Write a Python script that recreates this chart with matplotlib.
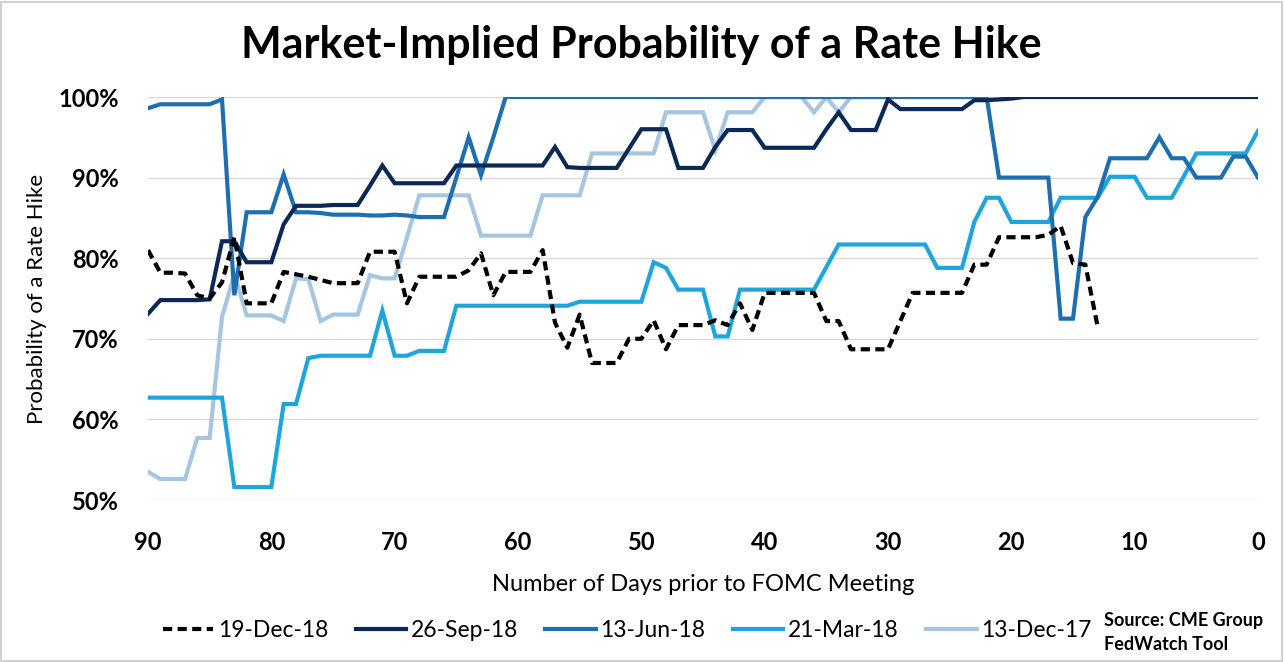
import numpy as np
import matplotlib
matplotlib.use("Agg")
import matplotlib.pyplot as plt
from matplotlib.patches import Rectangle

plt.rcParams['font.family'] = ['Lato', 'DejaVu Sans']

# days before the meeting, 90 down to 0
days = list(range(90, -1, -1))

# market-implied probability (%) for each meeting, one value per day
dec_18 = [81.0, 78.2, 78.2, 78.1, 75.4, 75.0, 77.0, 82.6, 74.4, 74.4,
          74.4, 78.3, 78.0, 77.7, 77.3, 76.9, 76.9, 76.9, 80.8, 80.8,
          80.8, 74.4, 77.7, 77.7, 77.7, 77.7, 78.5, 80.6, 75.4, 78.3,
          78.3, 78.3, 81.0, 72.0, 68.9, 73.0, 67.0, 67.0, 67.0, 70.0,
          70.0, 72.3, 68.7, 71.7, 71.7, 71.7, 72.3, 71.7, 74.4, 71.1,
          75.7, 75.7, 75.7, 75.7, 75.7, 72.2, 72.2, 68.7, 68.7, 68.7,
          68.7, 72.2, 75.7, 75.7, 75.7, 75.7, 75.7, 79.2, 79.2, 82.6,
          82.6, 82.6, 82.6, 82.9, 84.0, 79.4, 79.2, 71.5] + [np.nan] * 13

sep_18 = [73.1, 74.8, 74.8, 74.8, 74.8, 74.9, 82.1, 82.1, 79.5, 79.5,
          79.5, 84.2, 86.5, 86.5, 86.5, 86.6, 86.6, 86.6, 89.0, 91.5,
          89.3, 89.3, 89.3, 89.3, 89.3, 91.5, 91.5, 91.5, 91.5, 91.5,
          91.5, 91.5, 91.5, 93.8, 91.3, 91.2, 91.2, 91.2, 91.2, 93.6,
          96.0, 96.0, 96.0, 91.2, 91.2, 91.2, 93.8, 95.9, 95.9, 95.9,
          93.7, 93.7, 93.7, 93.7, 93.7, 96.0, 98.1, 95.9, 95.9, 95.9,
          99.7, 98.5, 98.5, 98.5, 98.5, 98.5, 98.5, 99.6, 99.6, 99.7,
          99.8, 100, 100, 100, 100, 100, 100, 100, 100, 100,
          100, 100, 100, 100, 100, 100, 100, 100, 100, 100, 100]

jun_18 = [98.6, 99.1, 99.1, 99.1, 99.1, 99.1, 99.7, 75.4, 85.7, 85.7,
          85.7, 90.4, 85.7, 85.7, 85.6, 85.4, 85.4, 85.4, 85.3, 85.3,
          85.4, 85.3, 85.1, 85.1, 85.1, 90.0, 95.0, 90.3, 95.0, 100,
          100, 100, 100, 100, 100, 100, 100, 100, 100, 100,
          100, 100, 100, 100, 100, 100, 100, 100, 100, 100,
          100, 100, 100, 100, 100, 100, 100, 100, 100, 100,
          100, 100, 100, 100, 100, 100, 100, 100, 100, 90.0,
          90.0, 90.0, 90.0, 90.0, 72.5, 72.5, 85.1, 87.6, 92.4, 92.4,
          92.4, 92.4, 95.0, 92.4, 92.4, 90.0, 90.0, 90.0, 92.6, 92.6, 90.0]

mar_18 = [62.7, 62.7, 62.7, 62.7, 62.7, 62.7, 62.7, 51.6, 51.6, 51.6,
          51.6, 61.9, 61.9, 67.6, 67.9, 67.9, 67.9, 67.9, 67.9, 73.5,
          67.9, 67.9, 68.5, 68.5, 68.5, 74.1, 74.1, 74.1, 74.1, 74.1,
          74.1, 74.1, 74.1, 74.1, 74.1, 74.6, 74.6, 74.6, 74.6, 74.6,
          74.6, 79.5, 78.8, 76.1, 76.1, 76.1, 70.3, 70.3, 76.1, 76.1,
          76.1, 76.1, 76.1, 76.1, 76.1, 78.9, 81.7, 81.7, 81.7, 81.7,
          81.7, 81.7, 81.7, 81.7, 78.8, 78.8, 78.8, 84.5, 87.5, 87.5,
          84.5, 84.5, 84.5, 84.5, 87.5, 87.5, 87.5, 87.5, 90.1, 90.1,
          90.1, 87.5, 87.5, 87.5, 90.2, 93.0, 93.0, 93.0, 93.0, 93.0, 95.8]

dec_17 = [53.5, 52.6, 52.6, 52.6, 57.7, 57.7, 72.7, 78.0, 72.9, 72.9,
          72.9, 72.2, 77.5, 77.4, 72.2, 73.0, 73.0, 73.0, 77.9, 77.5,
          77.5, 82.6, 87.8, 87.8, 87.8, 87.8, 87.8, 82.8, 82.8, 82.8,
          82.8, 82.8, 87.8, 87.8, 87.8, 87.8, 93.0, 93.0, 93.0, 93.0,
          93.0, 93.0, 98.1, 98.1, 98.1, 98.1, 93.4, 98.1, 98.1, 98.1,
          100, 100, 100, 100, 98.1, 100, 98.1, 100, 100, 100,
          100, 100, 100, 100, 100, 100, 100, 100, 100, 100,
          100, 100, 100, 100, 100, 100, 100, 100, 100, 100,
          100, 100, 100, 100, 100, 100, 100, 100, 100, 100, 100]

labels = ["19-Dec-18", "26-Sep-18", "13-Jun-18", "21-Mar-18", "13-Dec-17"]
colors = ["#000000", "#0c2857", "#1f6fad", "#1ea6dc", "#a6c5e1"]

fig = plt.figure(figsize=(12.85, 6.62), dpi=100)
ax = fig.add_axes([148 / 1285, 1 - 500 / 662, 1110 / 1285, 403 / 662])

# draw in reverse so the December 18 line sits on top
series = [dec_18, sep_18, jun_18, mar_18, dec_17]
handles = [None] * 5
for i in range(4, -1, -1):
    ls = (0, (2.2, 1.3)) if i == 0 else "-"
    line, = ax.plot(days, np.array(series[i]) / 100, color=colors[i], lw=3.0,
                    ls=ls, label=labels[i], solid_joinstyle="miter")
    handles[i] = line

ax.set_xlim(90, 0)
ax.set_ylim(0.5, 1.0)
ax.set_xticks(range(90, -1, -10))
ax.set_yticks(np.arange(0.5, 1.01, 0.1))
ax.set_yticklabels([f"{int(round(v * 100))}%" for v in np.arange(0.5, 1.01, 0.1)])
ax.grid(axis="y", color="#d9d9d9", lw=1)
ax.set_axisbelow(True)
for s in ax.spines.values():
    s.set_visible(False)
ax.tick_params(length=0, labelsize=17, pad=22)
ax.tick_params(axis="y", pad=21)
for t in ax.get_xticklabels() + ax.get_yticklabels():
    t.set_fontweight("bold")
ax.set_xlabel("Number of Days prior to FOMC Meeting", fontsize=17, labelpad=15)
ax.set_ylabel("Probability of a Rate Hike", fontsize=16, labelpad=8)

fig.text(0.499, 0.932, "Market-Implied Probability of a Rate Hike",
         ha="center", va="center", fontsize=31, fontweight="bold")

fig.legend(handles=handles, loc="center", bbox_to_anchor=(0.488, 0.048),
           ncol=5, frameon=False, fontsize=16.5, handlelength=2.2,
           columnspacing=1.2, handletextpad=0.2)
fig.text(0.859, 0.045, "Source: CME Group\nFedWatch Tool", ha="left",
         va="center", fontsize=13, fontweight="bold", linespacing=1.5)

# light frame around the image
fig.patches.append(Rectangle((0.001, 0.002), 0.997, 0.995, transform=fig.transFigure,
                             fill=False, ec="#d0d0d0", lw=1.5))

fig.savefig("out.png", dpi=100)
